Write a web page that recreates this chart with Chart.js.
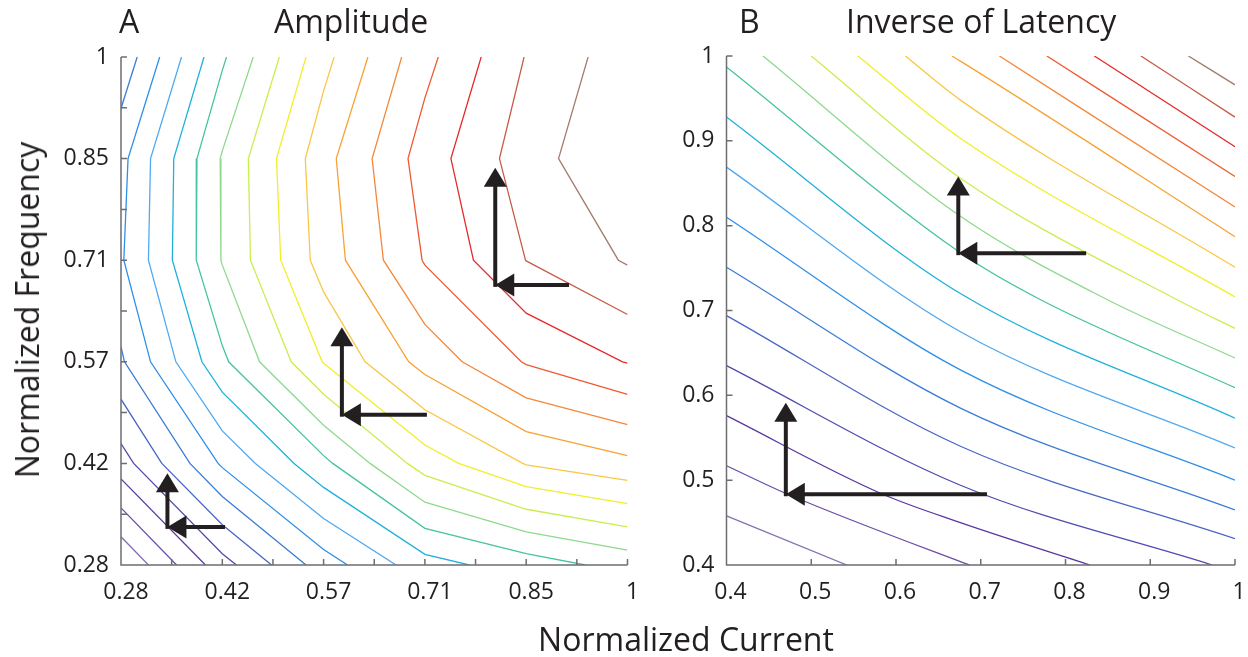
<!DOCTYPE html>
<html><head><meta charset="utf-8">
<script src="https://cdn.jsdelivr.net/npm/chart.js@4.4.1/dist/chart.umd.min.js"></script>
<style>
html,body{margin:0;padding:0;background:#fff;}
#wrap{position:relative;width:1248px;height:657px;overflow:hidden;background:#fff;}
#wrap canvas{position:absolute;top:0;}
.t{position:absolute;white-space:nowrap;font-family:"Open Sans",sans-serif;font-size:32px;line-height:32px;color:#231f20;}
</style></head><body>
<div id="wrap">
 <canvas id="cA" width="640" height="657" style="left:0px"></canvas>
 <canvas id="cB" width="608" height="657" style="left:640px"></canvas>
 <div class="t" style="left:119px;top:5px">A</div>
 <div class="t" style="left:274px;top:5px">Amplitude</div>
 <div class="t" style="left:739px;top:5px">B</div>
 <div class="t" style="left:846px;top:5px">Inverse of Latency</div>
 <div class="t" style="left:686px;top:623px;transform:translateX(-50%)">Normalized Current</div>
 <div class="t" style="left:27px;top:310px;transform:translate(-50%,-50%) rotate(-90deg)">Normalized Frequency</div>
</div>
<script>
// ---------- shared ----------
const LEVEL_COLORS = ['#8470ab','#6b4ea8','#5b37a3','#4f4bb1','#4a66c4','#3b7cd6','#2d8fe8','#4fa9f2','#1fb1da','#45c3a2',
                      '#8fd98f','#c9ee4e','#f1ee2a','#f8c744','#f8a233','#f6873b','#ef5a31','#e62a2a','#c65c4a','#a37c6c'];

// ---------- panel A : Amplitude ----------
const A_TICK_VALUES = [0.28,0.352,0.424,0.496,0.568,0.64,0.712,0.784,0.856,0.928,1.0];
const A_TICK_LABELS = ['0.28','0.42','0.57','0.71','0.85','1'];

const A_L01 = [[0.280,0.320],[0.319,0.280]];
const A_L02 = [[0.280,0.361],[0.359,0.280]];
const A_L03 = [[0.280,0.402],[0.400,0.280]];
const A_L04 = [[0.280,0.452],[0.298,0.424],[0.424,0.296],[0.444,0.280]];
const A_L05 = [[0.280,0.515],[0.338,0.424],[0.424,0.337],[0.494,0.280]];
const A_L06 = [[0.280,0.589],[0.285,0.568],[0.378,0.424],[0.424,0.377],[0.543,0.280]];
const A_L06B = [[0.280,0.927],[0.303,1.000]];
const A_L07 = [[0.335,1.000],[0.290,0.856],[0.284,0.712],[0.322,0.568],[0.418,0.424],[0.424,0.418],[0.568,0.302],[0.602,0.280]];
const A_L08 = [[0.366,1.000],[0.322,0.856],[0.319,0.712],[0.358,0.568],[0.424,0.470],[0.471,0.424],[0.568,0.346],[0.671,0.280]];
const A_L09 = [[0.398,1.000],[0.355,0.856],[0.353,0.712],[0.395,0.568],[0.424,0.525],[0.526,0.424],[0.568,0.390],[0.712,0.295],[0.775,0.280]];
const A_L10 = [[0.430,1.000],[0.424,0.981],[0.388,0.856],[0.387,0.712],[0.424,0.591],[0.433,0.568],[0.568,0.435],[0.581,0.424],[0.712,0.332],[0.856,0.296],[0.940,0.280]];
const A_L11 = [[0.468,1.000],[0.424,0.867],[0.421,0.856],[0.422,0.712],[0.424,0.705],[0.477,0.568],[0.568,0.478],[0.634,0.424],[0.712,0.369],[0.856,0.327],[1.000,0.301]];
const A_L12 = [[0.505,1.000],[0.461,0.856],[0.464,0.712],[0.522,0.568],[0.568,0.522],[0.687,0.424],[0.712,0.407],[0.856,0.359],[1.000,0.334]];
const A_L13 = [[0.543,1.000],[0.501,0.856],[0.507,0.712],[0.566,0.568],[0.568,0.566],[0.712,0.450],[0.760,0.424],[0.856,0.391],[1.000,0.367]];
const A_L14 = [[0.583,1.000],[0.568,0.952],[0.542,0.856],[0.549,0.712],[0.568,0.667],[0.627,0.568],[0.712,0.500],[0.851,0.424],[0.856,0.422],[1.000,0.400]];
const A_L15 = [[0.631,1.000],[0.586,0.856],[0.599,0.712],[0.689,0.568],[0.712,0.550],[0.856,0.469],[1.000,0.435]];
const A_L16 = [[0.679,1.000],[0.637,0.856],[0.653,0.712],[0.712,0.621],[0.765,0.568],[0.856,0.517],[1.000,0.479]];
const A_L17 = [[0.731,1.000],[0.712,0.942],[0.688,0.856],[0.708,0.712],[0.712,0.705],[0.849,0.568],[0.856,0.564],[1.000,0.522]];
const A_L18 = [[0.792,1.000],[0.749,0.856],[0.781,0.712],[0.856,0.637],[0.993,0.568],[1.000,0.566]];
const A_L19 = [[0.853,1.000],[0.818,0.856],[0.855,0.712],[0.856,0.711],[1.000,0.635]];
const A_L20 = [[0.944,1.000],[0.902,0.856],[0.987,0.712],[1.000,0.705]];
const A_LINES = [A_L01,A_L02,A_L03,A_L04,A_L05,A_L06,A_L06B,A_L07,A_L08,A_L09,A_L10,A_L11,A_L12,A_L13,A_L14,A_L15,A_L16,A_L17,A_L18,A_L19,A_L20];
const A_LINE_LEVELS = [1,2,3,4,5,6,6,7,8,9,10,11,12,13,14,15,16,17,18,19,20];
// arrows: [fromX, fromY, toX, toY]
const A_ARROWS = [[0.812,0.677,0.812,0.843],[0.914,0.677,0.812,0.677],
                  [0.594,0.493,0.594,0.617],[0.712,0.493,0.594,0.493],
                  [0.346,0.334,0.346,0.410],[0.425,0.334,0.346,0.334]];

// ---------- panel B : Inverse of Latency ----------
const B_TICK_VALUES = [0.4,0.5,0.6,0.7,0.8,0.9,1.0];
const B_TICK_LABELS = ['0.4','0.5','0.6','0.7','0.8','0.9','1'];

const B_L01 = [[0.400,0.458],[0.542,0.400]];
const B_L02 = [[0.400,0.517],[0.471,0.484],[0.676,0.404],[0.687,0.400]];
const B_L03 = [[0.400,0.576],[0.583,0.484],[0.676,0.450],[0.829,0.400]];
const B_L04 = [[0.400,0.635],[0.676,0.494],[0.973,0.400]];
const B_L05 = [[0.400,0.694],[0.676,0.540],[1.000,0.431]];
const B_L06 = [[0.400,0.751],[0.676,0.585],[1.000,0.465]];
const B_L07 = [[0.400,0.810],[0.676,0.630],[1.000,0.500]];
const B_L08 = [[0.400,0.869],[0.676,0.675],[1.000,0.538]];
const B_L09 = [[0.400,0.928],[0.676,0.720],[1.000,0.573]];
const B_L10 = [[0.400,0.987],[0.676,0.768],[0.770,0.713],[1.000,0.609]];
const B_L11 = [[0.443,1.000],[0.676,0.811],[0.849,0.713],[1.000,0.644]];
const B_L12 = [[0.500,1.000],[0.676,0.856],[0.931,0.713],[1.000,0.679]];
const B_L13 = [[0.555,1.000],[0.676,0.903],[1.000,0.716]];
const B_L14 = [[0.611,1.000],[0.676,0.948],[1.000,0.751]];
const B_L15 = [[0.666,1.000],[0.676,0.994],[1.000,0.787]];
const B_L16 = [[0.722,1.000],[1.000,0.822]];
const B_L17 = [[0.778,1.000],[1.000,0.858]];
const B_L18 = [[0.834,1.000],[1.000,0.893]];
const B_L19 = [[0.889,1.000],[1.000,0.928]];
const B_L20 = [[0.945,1.000],[1.000,0.966]];
const B_LINES = [B_L01,B_L02,B_L03,B_L04,B_L05,B_L06,B_L07,B_L08,B_L09,B_L10,B_L11,B_L12,B_L13,B_L14,B_L15,B_L16,B_L17,B_L18,B_L19,B_L20];
const B_LINE_LEVELS = [1,2,3,4,5,6,7,8,9,10,11,12,13,14,15,16,17,18,19,20];
const B_ARROWS = [[0.6735,0.7676,0.6735,0.858],[0.822,0.7676,0.6735,0.7676],
                  [0.470,0.4834,0.470,0.5914],[0.705,0.4834,0.470,0.4834]];

// ---------- drawing ----------
const INK = '#231f20';
const AXIS = '#6d6e71';

function drawArrow(ctx, x0, y0, x1, y1) {
  const L = Math.hypot(x1 - x0, y1 - y0), ux = (x1 - x0) / L, uy = (y1 - y0) / L;
  const headLen = 19, headW = 11.5;
  const bx = x1 - ux * headLen, by = y1 - uy * headLen;
  ctx.strokeStyle = INK; ctx.fillStyle = INK; ctx.lineWidth = 4; ctx.lineCap = 'butt';
  ctx.beginPath(); ctx.moveTo(x0 - ux * 2, y0 - uy * 2); ctx.lineTo(bx + ux * 2, by + uy * 2); ctx.stroke();
  ctx.beginPath(); ctx.moveTo(x1, y1);
  ctx.lineTo(bx - uy * headW, by + ux * headW);
  ctx.lineTo(bx + uy * headW, by - ux * headW);
  ctx.closePath(); ctx.fill();
}

const decoPlugin = {
  id: 'deco',
  afterDatasetsDraw(chart, args, opts) {
    const { ctx, chartArea: ca } = chart;
    const xs = chart.scales.x, ys = chart.scales.y;
    ctx.save();
    (opts.arrows || []).forEach(a => {
      drawArrow(ctx, xs.getPixelForValue(a[0]), ys.getPixelForValue(a[1]),
                     xs.getPixelForValue(a[2]), ys.getPixelForValue(a[3]));
    });
    ctx.strokeStyle = AXIS; ctx.lineWidth = 1.5; ctx.lineCap = 'butt';
    ctx.beginPath();
    ctx.moveTo(ca.left, ca.top); ctx.lineTo(ca.left, ca.bottom); ctx.lineTo(ca.right, ca.bottom);
    xs.ticks.forEach(t => { const p = xs.getPixelForValue(t.value); ctx.moveTo(p, ca.bottom); ctx.lineTo(p, ca.bottom - 6); });
    ys.ticks.forEach(t => { const p = ys.getPixelForValue(t.value); ctx.moveTo(ca.left, p); ctx.lineTo(ca.left + 6, p); });
    ctx.stroke();
    ctx.restore();
  }
};

function makePanel(id, lines, levels, tickValues, labelFn, min, max, yWidth, pad, arrows, smooth, xLabelShift) {
  const datasets = lines.map((pts, i) => ({
    data: pts.map(p => ({ x: p[0], y: p[1] })),
    showLine: true,
    borderColor: LEVEL_COLORS[levels[i] - 1],
    borderWidth: 1.3,
    pointRadius: 0,
    pointHoverRadius: 0,
    fill: false,
    tension: smooth ? 0.4 : 0,
    cubicInterpolationMode: smooth ? 'monotone' : 'default'
  }));
  const tickFont = { family: '"Open Sans", sans-serif', size: 23 };
  const mk = (pos, afterFit, padding, labelOffset) => ({
    type: 'linear', min: min, max: max, position: pos,
    grid: { display: false, drawTicks: false },
    border: { display: false },
    afterBuildTicks: s => { s.ticks = tickValues.map(v => ({ value: v })); },
    afterFit: afterFit,
    ticks: { autoSkip: false, maxRotation: 0, minRotation: 0, color: INK, font: tickFont,
             callback: labelFn, padding: padding, labelOffset: labelOffset }
  });
  return new Chart(document.getElementById(id), {
    type: 'scatter',
    data: { datasets },
    options: {
      responsive: false, animation: false, events: [],
      layout: { padding: pad },
      plugins: { legend: { display: false }, tooltip: { enabled: false }, deco: { arrows } },
      scales: {
        x: mk('bottom', s => { s.height = 40; s.paddingLeft = 0; s.paddingRight = 0; }, 14, xLabelShift),
        y: mk('left', s => { s.width = yWidth; s.paddingTop = 0; s.paddingBottom = 0; }, 12, 0)
      }
    },
    plugins: [decoPlugin]
  });
}

makePanel('cA', A_LINES, A_LINE_LEVELS, A_TICK_VALUES,
  (v, i) => (i % 2 === 0 ? A_TICK_LABELS[i / 2] : ''),
  0.28, 1.0, 121, { top: 57, right: 12.5, bottom: 52, left: 0 }, A_ARROWS, false, 5);

makePanel('cB', B_LINES, B_LINE_LEVELS, B_TICK_VALUES,
  (v, i) => B_TICK_LABELS[i],
  0.4, 1.0, 86.5, { top: 56, right: 13, bottom: 52, left: 0 }, B_ARROWS, true, 4);
</script>
</body></html>
